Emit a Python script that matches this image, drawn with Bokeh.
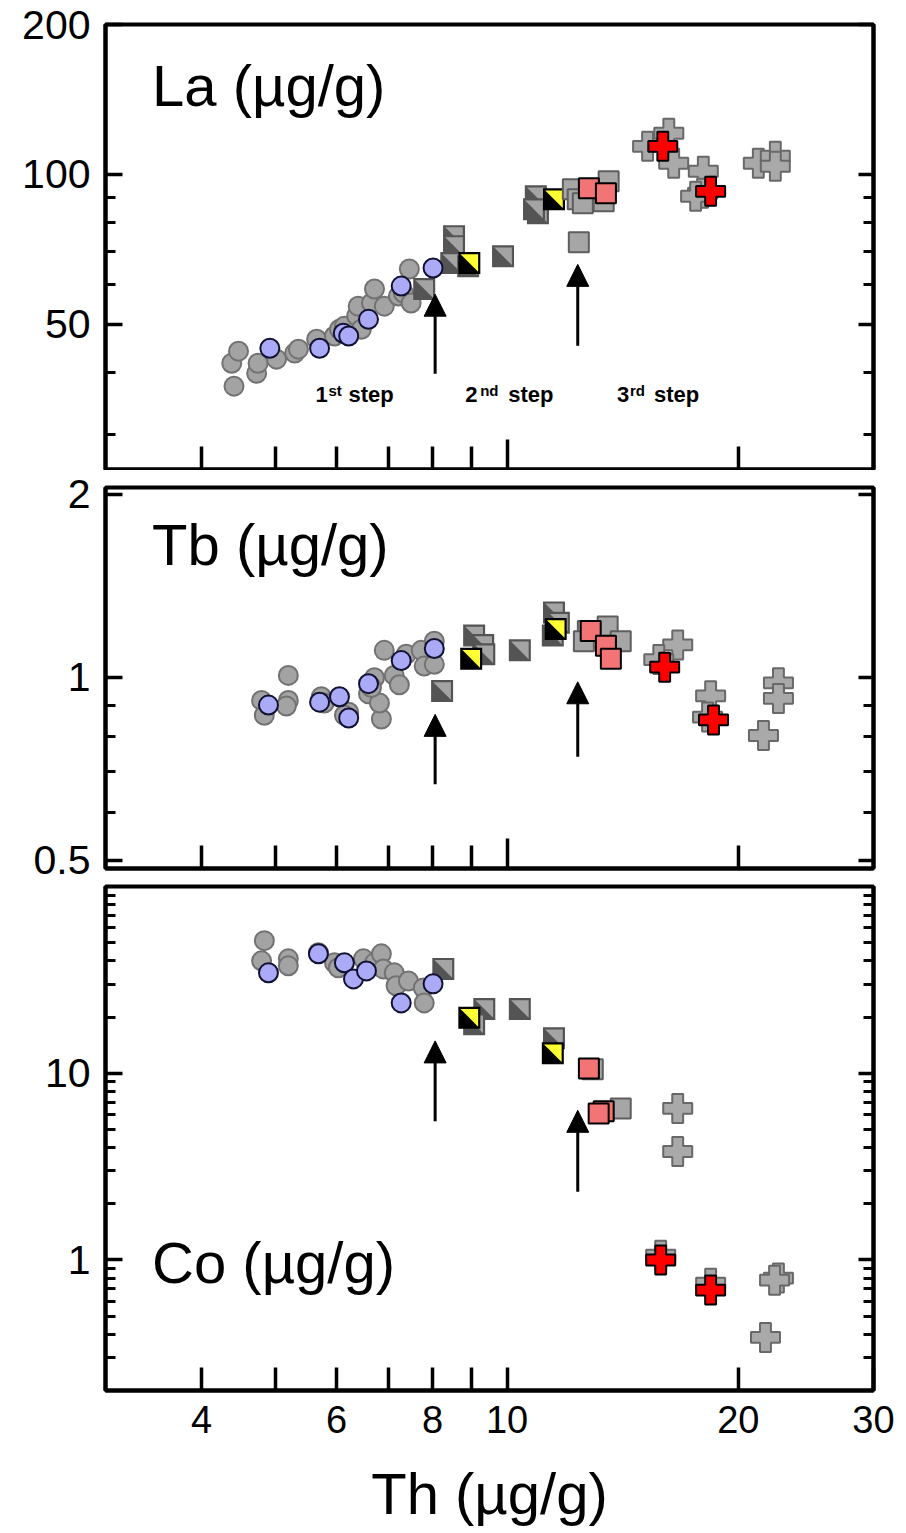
import math
from bokeh.plotting import figure
from bokeh.layouts import column
from bokeh.models import (FixedTicker, LogAxis, Arrow, NormalHead,
                          CustomJSTickFormatter, ColumnDataSource)
from bokeh.core.properties import value
from bokeh.embed import file_html
from bokeh.resources import INLINE

FONT = "Liberation Sans"

# ---------------- data (Th in µg/g on x) ----------------
# Panel 1 : La
la_gc_th = [4.38, 4.47, 4.41, 4.72, 4.74, 5.01, 5.29, 5.35, 5.65, 5.96, 6.05, 6.14, 6.37, 6.40, 6.46, 6.66, 6.72, 6.92, 7.22, 7.33, 7.46, 7.50]
la_gc_val = [41.7, 44.1, 37.5, 39.8, 41.7, 42.5, 43.7, 44.5, 46.6, 47.3, 48.8, 49.5, 51.9, 54.3, 48.8, 55.1, 58.8, 54.3, 56.9, 57.7, 64.5, 55.1]
la_bc_th = [4.91, 5.70, 6.12, 6.22, 6.60, 7.28, 8.01]
la_bc_val = [44.7, 44.7, 47.9, 47.3, 51.1, 59.6, 64.8]
la_hs_th = [7.80, 8.53, 8.53, 8.46, 8.90, 9.88, 10.97, 10.97, 10.90, 10.84]
la_hs_val = [58.8, 75.1, 71.7, 66.3, 65.3, 68.4, 87.4, 83.5, 90.3, 85.0]
la_ys_th = [8.93, 11.51]
la_ys_val = [66.3, 89.1]
la_gs_th = [12.18, 12.36, 12.55, 13.36, 13.56, 12.40]
la_gs_val = [93.3, 89.1, 87.4, 88.3, 96.8, 73.0]
la_ps_th = [12.78, 13.45]
la_ps_val = [93.7, 91.6]
la_gx_th = [15.24, 16.24, 16.48, 18.01, 17.97, 17.60, 21.24, 22.35, 22.35]
la_gx_val = [113.8, 120.9, 105.2, 101.4, 91.6, 90.3, 105.2, 108.7, 103.8]
la_rx_th = [15.95, 18.41]
la_rx_val = [113.8, 92.4]

# Panel 2 : Tb
tb_gc_th = [4.79, 4.83, 5.19, 5.19, 5.16, 5.73, 5.78, 6.22, 6.14, 6.60, 6.72, 6.92, 6.86, 6.82, 7.13, 7.24, 7.39, 7.73, 7.80, 8.04, 8.04, 6.66]
tb_gc_val = [0.916, 0.866, 1.007, 0.916, 0.897, 0.929, 0.907, 0.876, 0.866, 0.939, 0.998, 1.107, 0.854, 0.907, 1.007, 0.972, 1.091, 1.107, 1.043, 1.050, 1.146, 0.962]
tb_bc_th = [4.89, 5.70, 6.05, 6.22, 6.60, 7.28, 8.04]
tb_bc_val = [0.900, 0.910, 0.929, 0.857, 0.976, 1.065, 1.115]
tb_hs_th = [8.23, 9.06, 9.31, 9.34, 10.39, 11.51, 11.68, 11.47]
tb_hs_val = [0.949, 1.171, 1.130, 1.091, 1.107, 1.278, 1.229, 1.171]
tb_ys_th = [8.98, 11.57]
tb_ys_val = [1.072, 1.200]
tb_gs_th = [12.74, 13.52, 14.06, 12.59]
tb_gs_val = [1.191, 1.212, 1.146, 1.146]
tb_ps_th = [12.85, 13.45, 13.65]
tb_ps_val = [1.191, 1.126, 1.072]
tb_gx_th = [16.68, 15.76, 18.41, 18.24, 22.56, 22.56, 21.57]
tb_gx_val = [1.130, 1.069, 0.932, 0.860, 0.979, 0.923, 0.802]
tb_rx_th = [16.04, 18.57]
tb_rx_val = [1.039, 0.851]

# Panel 3 : Co
co_gc_th = [4.83, 4.79, 5.19, 5.19, 5.68, 5.96, 6.03, 6.50, 6.72, 6.86, 6.90, 7.13, 7.17, 7.44, 7.78, 7.80]
co_gc_val = [51.3, 40.0, 41.0, 37.6, 44.2, 39.0, 36.7, 41.0, 39.0, 43.6, 36.2, 34.5, 29.4, 31.2, 28.6, 23.8]
co_bc_th = [4.89, 5.68, 6.14, 6.31, 6.56, 7.28, 8.01]
co_bc_val = [34.5, 43.6, 39.0, 32.0, 35.3, 23.8, 30.1]
co_hs_th = [8.26, 9.34, 9.06, 10.39, 11.51]
co_hs_val = [36.2, 22.1, 18.3, 22.1, 15.4]
co_ys_th = [8.93, 11.47]
co_ys_val = [19.8, 12.8]
co_gs_th = [12.93, 14.06]
co_gs_val = [10.5, 6.48]
co_ps_th = [12.78, 13.36, 13.16]
co_ps_val = [10.6, 6.25, 6.09]
co_gx_th = [16.68, 16.68, 15.85, 18.41, 22.56, 22.30, 21.70]
co_gx_val = [6.48, 3.81, 1.06, 0.75, 0.80, 0.78, 0.385]
co_rx_th = [15.85, 18.41]
co_rx_val = [1.0, 0.69]

# arrows (Th position, tail and tip values per panel)
arrow_th = [8.06, 12.36]
la_arrow_tail = [39.7, 45.2]
la_arrow_tip = [57.4, 65.9]
tb_arrow_tail = [0.667, 0.740]
tb_arrow_tip = [0.869, 0.983]
co_arrow_tail = [5.53, 2.32]
co_arrow_tip = [14.9, 6.33]

# step annotations
step_num = ["1", "2", "3"]
step_sup = ["st", "nd", "rd"]
step_th = [5.63, 8.82, 13.90]
step_la = 34.8

# ticks
x_ticks_lab = [4, 6, 8, 10, 20, 30]
x_ticks_minor = [5, 7, 9]
x_ticks_all_minor = [4, 5, 6, 7, 8, 9, 20]
la_ticks = [50, 100, 200]
la_minor = [30, 40, 60, 70, 80, 90]
tb_ticks = [0.5, 1, 2]
tb_minor = [0.6, 0.7, 0.8, 0.9]
co_ticks = [1, 10]
co_minor = [0.2, 0.3, 0.4, 0.5, 0.6, 0.7, 0.8, 0.9, 2, 3, 4, 5, 6, 7, 8, 9,
            20, 30, 40, 50, 60, 70, 80, 90]

X_RANGE = (3, 30)
FRAME_W = 768
PPD_X = FRAME_W / 1.0
LEFT, RIGHT = 105, 30

EMPTY = CustomJSTickFormatter(code="return ''")
PLAIN = CustomJSTickFormatter(code="return tick.toString()")


def split_squares(th, val, ppd_y, dark, light, edge, size=20):
    h = size / 2.0
    hi = h - 1.2
    d = dict(xs=[], ys=[], fill=[], line=[], la=[])
    for x, y in zip(th, val):
        fx, fy = 10 ** (h / PPD_X), 10 ** (h / ppd_y)
        gx, gy = 10 ** (hi / PPD_X), 10 ** (hi / ppd_y)
        d["xs"].append([x / fx, x * fx, x * fx, x / fx])
        d["ys"].append([y / fy, y / fy, y * fy, y * fy])
        d["fill"].append(dark); d["line"].append(edge); d["la"].append(1.0)
        d["xs"].append([x / gx, x * gx, x * gx])
        d["ys"].append([y * gy, y * gy, y / gy])
        d["fill"].append(light); d["line"].append(edge); d["la"].append(0.0)
    return d


def make_panel(y_range, frame_h, borders, yticks, yminor, bottom_labels):
    top, bottom = borders
    p = figure(width=LEFT + FRAME_W + RIGHT, height=top + frame_h + bottom,
               x_axis_type="log", y_axis_type="log",
               x_range=X_RANGE, y_range=y_range,
               output_backend="svg", toolbar_location=None,
               min_border_left=LEFT, min_border_right=RIGHT,
               min_border_top=top, min_border_bottom=bottom)
    p.grid.visible = False
    p.outline_line_color = "black"
    p.outline_line_width = 4
    p.background_fill_color = "white"
    p.border_fill_color = "white"

    ya = p.yaxis[0]
    ya.ticker = FixedTicker(ticks=yticks, minor_ticks=yminor)
    ya.formatter = PLAIN
    ya.major_tick_in = 17
    ya.major_tick_out = 0
    ya.minor_tick_in = 10
    ya.minor_tick_out = 0
    ya.major_tick_line_width = 3.5
    ya.minor_tick_line_width = 3
    ya.axis_line_width = 4
    ya.major_label_text_font = FONT
    ya.major_label_text_font_size = "41px"
    ya.major_label_text_color = "black"
    ya.major_label_standoff = 15

    ra = LogAxis(ticker=FixedTicker(ticks=yticks, minor_ticks=yminor),
                 formatter=EMPTY, major_tick_in=15, major_tick_out=0,
                 minor_tick_in=10, minor_tick_out=0,
                 major_tick_line_width=3.5, minor_tick_line_width=3,
                 axis_line_width=4, major_label_text_font_size="0px",
                 major_label_standoff=0)
    p.add_layout(ra, "right")

    xa = p.xaxis[0]
    xa.axis_line_width = 4
    xa.major_tick_out = 0
    xa.minor_tick_out = 0
    xa.major_tick_line_width = 3.5
    xa.minor_tick_line_width = 3.5
    if bottom_labels:
        xa.ticker = FixedTicker(ticks=x_ticks_lab, minor_ticks=x_ticks_minor)
        xa.formatter = PLAIN
        xa.major_tick_in = 23
        xa.minor_tick_in = 23
        xa.major_label_text_font = FONT
        xa.major_label_text_font_size = "38px"
        xa.major_label_text_color = "black"
        xa.major_label_standoff = 15
        xa.axis_label = "Th (µg/g)"
        xa.axis_label_text_font = FONT
        xa.axis_label_text_font_size = "58px"
        xa.axis_label_text_font_style = "normal"
        xa.axis_label_text_color = "black"
        xa.axis_label_standoff = 25
    else:
        xa.ticker = FixedTicker(ticks=[10], minor_ticks=x_ticks_all_minor)
        xa.formatter = EMPTY
        xa.major_tick_in = 30
        xa.minor_tick_in = 23
        xa.major_label_text_font_size = "0px"
        xa.major_label_standoff = 0
    return p


def draw_points(p, ppd_y, gc, bc, hs, ys, gs, ps, gx, rx):
    p.scatter(gc[0], gc[1], marker="circle", size=19, fill_color="#a3a3a3",
              line_color="#727272", line_width=2)
    src = ColumnDataSource(split_squares(hs[0], hs[1], ppd_y, "#545454", "#a4a4a4", "#545454"))
    p.patches("xs", "ys", source=src, fill_color="fill", line_color="line",
              line_alpha="la", line_width=2, line_join="miter")
    p.scatter(bc[0], bc[1], marker="circle", size=19, fill_color="#aaaaf6",
              line_color="#111133", line_width=2)
    src = ColumnDataSource(split_squares(ys[0], ys[1], ppd_y, "#000000", "#ffff33", "#000000"))
    p.patches("xs", "ys", source=src, fill_color="fill", line_color="line",
              line_alpha="la", line_width=2, line_join="miter")
    p.scatter(gs[0], gs[1], marker="square", size=20, fill_color="#a6a6a6",
              line_color="#5e5e5e", line_width=2)
    p.scatter(ps[0], ps[1], marker="square", size=20, fill_color="#f37474",
              line_color="#000000", line_width=2)
    p.scatter(gx[0], gx[1], marker="plus", size=29, fill_color="#a9a9a9",
              line_color="#686868", line_width=2)
    p.scatter(rx[0], rx[1], marker="plus", size=29, fill_color="#ff0000",
              line_color="#000000", line_width=2)


def draw_arrows(p, tails, tips):
    for x, y0, y1 in zip(arrow_th, tails, tips):
        p.add_layout(Arrow(end=NormalHead(size=22, fill_color="black", line_color="black", line_width=1),
                           x_start=x, y_start=y0, x_end=x, y_end=y1,
                           line_width=3, line_color="black"))


def panel_label(p, y, txt):
    p.text(x=[3.45], y=[y], text=[txt], text_font=value(FONT), text_font_size="58px",
           y_offset=-22, text_color="black", text_baseline="alphabetic", text_align="left")


FH = [445, 381, 504]
YR = [(25.5, 200), (0.485, 2.05), (0.2, 100)]
BORDERS = [(24, 1), (17, 16), (2, 142)]
PPD = [FH[i] / math.log10(YR[i][1] / YR[i][0]) for i in range(3)]

p1 = make_panel(YR[0], FH[0], BORDERS[0], la_ticks, la_minor, False)
p2 = make_panel(YR[1], FH[1], BORDERS[1], tb_ticks, tb_minor, False)
p3 = make_panel(YR[2], FH[2], BORDERS[2], co_ticks, co_minor, True)

draw_points(p1, PPD[0], (la_gc_th, la_gc_val), (la_bc_th, la_bc_val), (la_hs_th, la_hs_val),
            (la_ys_th, la_ys_val), (la_gs_th, la_gs_val), (la_ps_th, la_ps_val),
            (la_gx_th, la_gx_val), (la_rx_th, la_rx_val))
draw_points(p2, PPD[1], (tb_gc_th, tb_gc_val), (tb_bc_th, tb_bc_val), (tb_hs_th, tb_hs_val),
            (tb_ys_th, tb_ys_val), (tb_gs_th, tb_gs_val), (tb_ps_th, tb_ps_val),
            (tb_gx_th, tb_gx_val), (tb_rx_th, tb_rx_val))
draw_points(p3, PPD[2], (co_gc_th, co_gc_val), (co_bc_th, co_bc_val), (co_hs_th, co_hs_val),
            (co_ys_th, co_ys_val), (co_gs_th, co_gs_val), (co_ps_th, co_ps_val),
            (co_gx_th, co_gx_val), (co_rx_th, co_rx_val))

draw_arrows(p1, la_arrow_tail, la_arrow_tip)
draw_arrows(p2, tb_arrow_tail, tb_arrow_tip)
draw_arrows(p3, co_arrow_tail, co_arrow_tip)

panel_label(p1, 136.0, "La (µg/g)")
panel_label(p2, 1.52, "Tb (µg/g)")
panel_label(p3, 0.736, "Co (µg/g)")

step_src = ColumnDataSource(dict(x=step_th, y=[step_la] * 3, num=step_num, sup=step_sup,
                                 word=["step"] * 3,
                                 sdx=[13, 15, 13], wdx=[33, 43, 37]))
p1.text(x="x", y="y", text="num", source=step_src, text_font=value(FONT), y_offset=-8,
        text_font_size="22px", text_font_style="bold", text_color="black",
        text_baseline="alphabetic", text_align="left")
p1.text(x="x", y="y", text="sup", source=step_src, x_offset="sdx", y_offset=-12,
        text_font=value(FONT), text_font_size="15px", text_font_style="bold",
        text_color="black", text_baseline="alphabetic", text_align="left")
p1.text(x="x", y="y", text="word", source=step_src, x_offset="wdx", y_offset=-8,
        text_font=value(FONT), text_font_size="22px", text_font_style="bold",
        text_color="black", text_baseline="alphabetic", text_align="left")

layout = column(p1, p2, p3, spacing=0)
open("out.html", "w").write(file_html(layout, INLINE))
